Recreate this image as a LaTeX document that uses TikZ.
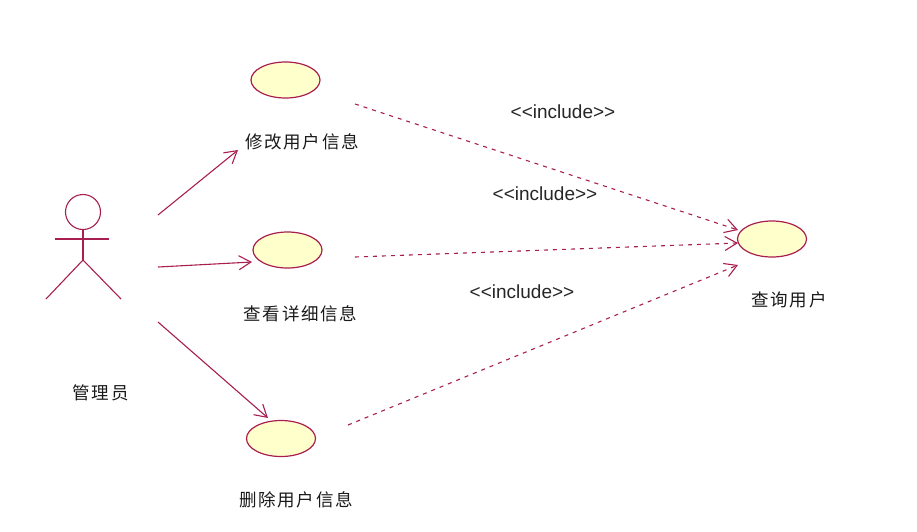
\documentclass[tikz,border=0pt]{standalone}
\usepackage{fontspec}
\setmainfont[Ligatures=NoCommon]{Liberation Sans}
\newfontfamily\cjk[LetterSpace=10]{Noto Sans CJK SC}
\usetikzlibrary{arrows.meta,shapes.geometric}
\definecolor{umlline}{RGB}{168,30,80}
\definecolor{umlfill}{RGB}{255,255,204}
\tikzset{
  usecase/.style={ellipse,draw=umlline,fill=umlfill,line width=1.2pt,minimum width=69pt,minimum height=36pt,inner sep=0pt},
  zhlabel/.style={font=\cjk\fontsize{17.5}{19}\selectfont,text=black!90,inner sep=0pt},
  inclabel/.style={font=\fontsize{19}{21}\selectfont,text=black!85,inner sep=0pt},
  assoc/.style={draw=umlline,line width=1.1pt,-{Straight Barb[length=12pt,width=14pt,line width=1.1pt]}},
  incl/.style={draw=umlline,line width=1.1pt,dash pattern=on 4pt off 5pt,-{Straight Barb[length=12pt,width=14pt,line width=1.1pt]}},
  actorline/.style={draw=umlline,line width=1.1pt}
}
\newcommand{\incltext}{{<}{<}include{>}{>}}
\begin{document}
\begin{tikzpicture}[x=1pt,y=-1pt]
\useasboundingbox (0,0) rectangle (917,531);
% actor
\node[circle,draw=umlline,line width=1.1pt,minimum size=35pt,inner sep=0pt] (head) at (83,212) {};
\coordinate (hip) at (83,260);
\coordinate (armL) at (55,239);
\coordinate (armR) at (109,239);
\coordinate (legL) at (46,299);
\coordinate (legR) at (121,299);
\draw[actorline] (head.south) -- (hip);
\draw[actorline] (armL) -- (armR);
\draw[actorline] (legL) -- (hip) -- (legR);
\node[zhlabel] (actorname) at (100.5,392.5) {管理员};
% use cases
\node[usecase] (uc1) at (285.5,80) {};
\node[usecase] (uc2) at (287.5,250) {};
\node[usecase] (uc3) at (281,438.5) {};
\node[usecase] (uc4) at (772,239) {};
\node[zhlabel] (l1) at (302,141.5) {修改用户信息};
\node[zhlabel] (l2) at (300.5,313.5) {查看详细信息};
\node[zhlabel] (l3) at (296,500) {删除用户信息};
\node[zhlabel] (l4) at (789,300) {查询用户};
\node[inclabel] (i1) at (563,112) {\incltext};
\node[inclabel] (i2) at (545,194) {\incltext};
\node[inclabel] (i3) at (522,292) {\incltext};
% association end points
\coordinate (s1) at (158,215);
\coordinate (s2) at (158,267);
\coordinate (s3) at (158,322);
\coordinate (t1) at (238,150);
\coordinate (t2) at (252,262);
\coordinate (t3) at (268,418);
\draw[assoc] (s1) -- (t1);
\draw[assoc] (s2) -- (t2);
\draw[assoc] (s3) -- (t3);
% include end points
\coordinate (d1) at (355,104);
\coordinate (d2) at (355,257);
\coordinate (d3) at (348,425);
\coordinate (e1) at (738,230);
\coordinate (e2) at (738,243);
\coordinate (e3) at (738,265);
\draw[incl] (d1) -- (e1);
\draw[incl] (d2) -- (e2);
\draw[incl] (d3) -- (e3);
\end{tikzpicture}
\end{document}
